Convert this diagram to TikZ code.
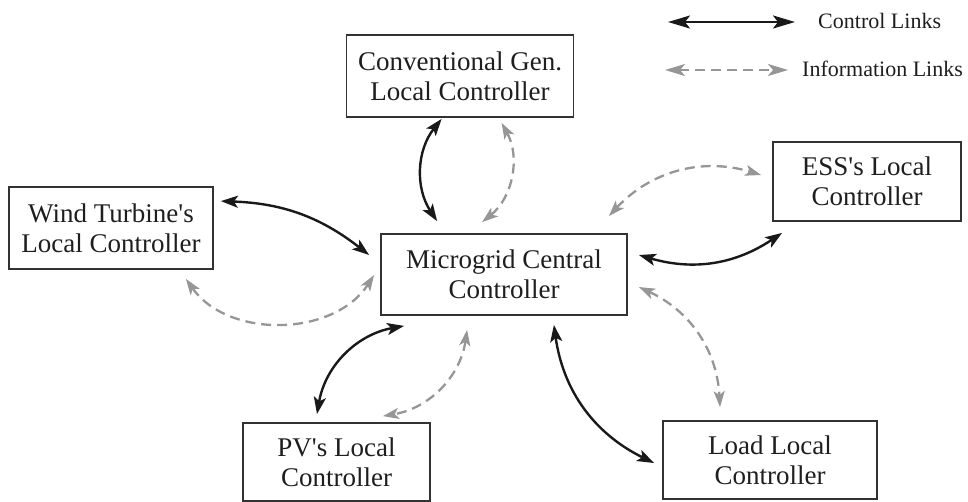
\documentclass[tikz,border=0pt]{standalone}
\usepackage{fontspec}
\setmainfont{Liberation Serif}[Ligatures=TeXOff]
\usetikzlibrary{arrows.meta,calc}
\definecolor{boxc}{RGB}{50,50,50}
\definecolor{ctrlc}{RGB}{25,25,25}
\definecolor{infoc}{RGB}{150,150,150}
\definecolor{txtc}{RGB}{30,30,30}
\begin{document}
\begin{tikzpicture}[x=1pt,y=1pt,
  box/.style={draw=boxc, line width=1.8pt, inner sep=0pt, align=center,
    font=\fontsize{27}{30}\selectfont, text=txtc},
  ctrl/.style={draw=ctrlc, line width=2.4pt,
    {Stealth[length=17pt,width=12pt,inset=4pt]}-{Stealth[length=17pt,width=12pt,inset=4pt]}},
  info/.style={draw=infoc, line width=2.3pt, dash pattern=on 10pt off 6pt,
    {Stealth[length=16pt,width=11pt,inset=4pt]}-{Stealth[length=16pt,width=11pt,inset=4pt]}},
  lctrl/.style={draw=ctrlc, line width=2.4pt,
    {Stealth[length=22pt,width=13pt,inset=5pt]}-{Stealth[length=22pt,width=13pt,inset=5pt]}},
  linfo/.style={draw=infoc, line width=2.3pt, dash pattern=on 10pt off 6pt,
    {Stealth[length=20pt,width=12pt,inset=5pt]}-{Stealth[length=20pt,width=12pt,inset=5pt]}},
  lbl/.style={anchor=west, inner sep=0pt, font=\fontsize{22}{26}\selectfont, text=txtc}]
\path[use as bounding box] (0,0) rectangle (968,-501);

% boxes
\node[box, minimum width=227pt, minimum height=82pt] (conv) at (460,-76) {Conventional Gen.\\Local Controller};
\node[box, minimum width=204pt, minimum height=82pt] (wind) at (111,-228) {Wind Turbine's\\Local Controller};
\node[box, minimum width=188pt, minimum height=79pt] (ess) at (867,-181.5) {ESS's Local\\Controller};
\node[box, minimum width=246pt, minimum height=81pt] (mg) at (504,-274.5) {Microgrid Central\\Controller};
\node[box, minimum width=187pt, minimum height=78pt] (pv) at (336.5,-462) {PV's Local\\Controller};
\node[box, minimum width=214pt, minimum height=78pt] (load) at (770,-460) {Load Local\\Controller};

% legend
\coordinate (c1a) at (668,-22);
\coordinate (c1b) at (795,-22);
\draw[lctrl] (c1a) -- (c1b);
\node[lbl] (ctrltxt) at (818,-21) {Control Links};
\coordinate (i1a) at (665,-70);
\coordinate (i1b) at (788,-70);
\draw[linfo] (i1a) -- (i1b);
\node[lbl] (infotxt) at (802,-69) {Information Links};

% connectors
\draw[ctrl] ($(conv.south west)+(96,-1)$) to[bend right=36] ($(mg.north west)+(57,12)$);
\draw[info] ($(conv.south west)+(156,-5)$) to[bend left=40] ($(mg.north west)+(102,11)$);
\draw[ctrl] ($(wind.north east)+(7,-15)$) to[bend left=18] ($(mg.west)+(-11,19.5)$);
\draw[info] ($(wind.south east)+(-28,-9)$) to[bend right=56] ($(mg.west)+(-6,-0.5)$);
\draw[info] ($(mg.north east)+(-19,17)$) to[bend left=32] ($(ess.west)+(-11,6.5)$);
\draw[ctrl] ($(mg.east)+(11,19.5)$) to[bend right=25] ($(ess.south west)+(10,-11)$);
\draw[info] ($(mg.east)+(11,-12.5)$) to[bend left=31] ($(load.north)+(-50,13)$);
\draw[ctrl] ($(mg.south east)+(-74,-9)$) to[bend right=28] ($(load.west)+(-8,-3)$);
\draw[ctrl] ($(mg.south west)+(24,-10)$) to[bend right=35] ($(pv.north)+(-19.5,8)$);
\draw[info] ($(mg.south west)+(87,-14)$) to[bend left=36] ($(pv.north east)+(-48,6)$);
\end{tikzpicture}
\end{document}
